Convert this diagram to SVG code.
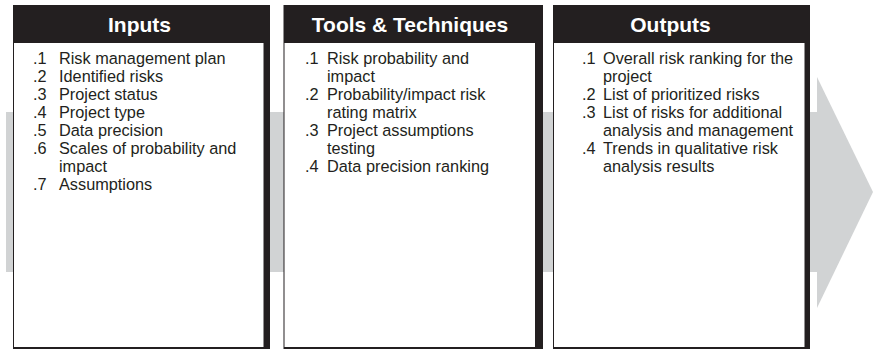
<svg xmlns="http://www.w3.org/2000/svg" width="873" height="350" viewBox="0 0 873 350">
<style>
.hdr{font-family:"Liberation Sans",Arial,sans-serif;font-weight:bold;font-size:21px;fill:#ffffff;text-anchor:middle}
.item{font-family:"Liberation Sans",Arial,sans-serif;font-size:16.3px;fill:#231f20}
.frame{fill:#231f20}
.body{fill:#ffffff}
.flow{fill:#d1d3d4}
</style>
<g id="flow">
<rect class="flow" x="6" y="112" width="811" height="160"/>
<polygon class="flow" points="817,77 873,192 817,308"/>
</g>
<g id="inputs">
<rect class="frame" x="13" y="5" width="257" height="344"/>
<rect class="body" x="14" y="43" width="249.5" height="304"/>
<text class="hdr" x="139.5" y="32">Inputs</text>
<g class="item">
<text x="33" y="64">.1</text><text x="59" y="64">Risk management plan</text>
<text x="33" y="82">.2</text><text x="59" y="82">Identified risks</text>
<text x="33" y="100">.3</text><text x="59" y="100">Project status</text>
<text x="33" y="118">.4</text><text x="59" y="118">Project type</text>
<text x="33" y="136">.5</text><text x="59" y="136">Data precision</text>
<text x="33" y="154">.6</text><text x="59" y="154">Scales of probability and</text>
<text x="59" y="172">impact</text>
<text x="33" y="190">.7</text><text x="59" y="190">Assumptions</text>
</g>
</g>
<g id="tools">
<rect class="frame" x="283.5" y="5" width="259.5" height="344"/>
<rect class="body" x="284.5" y="43" width="250.5" height="304"/>
<text class="hdr" x="410" y="32">Tools &amp; Techniques</text>
<g class="item">
<text x="305" y="64">.1</text><text x="327" y="64">Risk probability and</text>
<text x="327" y="82">impact</text>
<text x="305" y="100">.2</text><text x="327" y="100">Probability/impact risk</text>
<text x="327" y="118">rating matrix</text>
<text x="305" y="136">.3</text><text x="327" y="136">Project assumptions</text>
<text x="327" y="154">testing</text>
<text x="305" y="172">.4</text><text x="327" y="172">Data precision ranking</text>
</g>
</g>
<g id="outputs">
<rect class="frame" x="553" y="5" width="257" height="344"/>
<rect class="body" x="554" y="43" width="250.5" height="304"/>
<text class="hdr" x="670.5" y="32">Outputs</text>
<g class="item">
<text x="582" y="64">.1</text><text x="603" y="64">Overall risk ranking for the</text>
<text x="603" y="82">project</text>
<text x="582" y="100">.2</text><text x="603" y="100">List of prioritized risks</text>
<text x="582" y="118">.3</text><text x="603" y="118">List of risks for additional</text>
<text x="603" y="136">analysis and management</text>
<text x="582" y="154">.4</text><text x="603" y="154">Trends in qualitative risk</text>
<text x="603" y="172">analysis results</text>
</g>
</g>
</svg>
